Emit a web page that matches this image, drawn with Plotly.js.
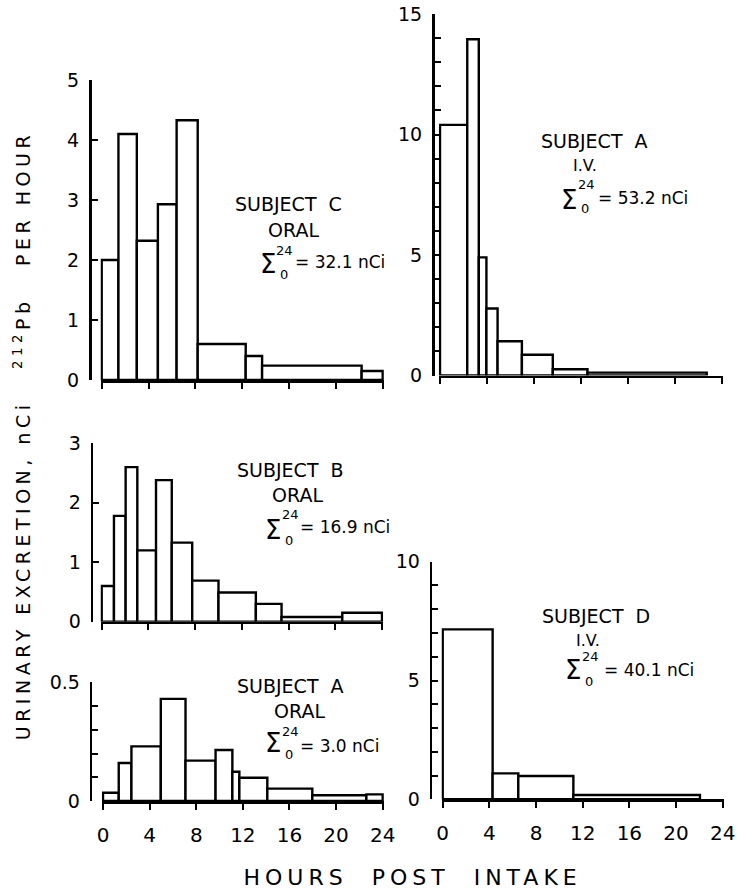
<!DOCTYPE html>
<html><head><meta charset="utf-8">
<script src="https://cdn.plot.ly/plotly-3.0.1.min.js"></script>
<style>html,body{margin:0;padding:0;background:#fff}#chart{width:737px;height:890px}</style>
</head><body><div id="chart"></div>
<script>
// ---- data (hours post intake: bin edges; nCi 212Pb per hour) ----
const xTickVals = [0, 4, 8, 12, 16, 20, 24];
// Subject C, oral
const cEdges  = [0, 1.43, 3.0, 4.8, 6.4, 8.2, 12.3, 13.7, 22.2, 24];
const cValues = [2.0, 4.1, 2.32, 2.93, 4.33, 0.6, 0.4, 0.24, 0.15];
// Subject A, I.V.
const aivEdges  = [0, 2.32, 3.3, 3.95, 4.9, 6.97, 9.6, 12.55, 22.7];
const aivValues = [10.4, 13.95, 4.9, 2.78, 1.42, 0.86, 0.26, 0.12];
// Subject B, oral
const bEdges  = [0, 1.05, 2.05, 3.05, 4.65, 6.0, 7.75, 10.0, 13.2, 15.4, 20.6, 24];
const bValues = [0.6, 1.78, 2.6, 1.2, 2.38, 1.33, 0.69, 0.49, 0.3, 0.08, 0.15];
// Subject A, oral
const aoEdges  = [0, 1.35, 2.44, 4.96, 7.08, 9.66, 11.1, 11.7, 14.1, 17.96, 22.6, 24];
const aoValues = [0.035, 0.16, 0.23, 0.43, 0.17, 0.215, 0.123, 0.098, 0.052, 0.024, 0.028];
// Subject D, I.V.
const dEdges  = [0, 4.28, 6.48, 11.2, 22.05];
const dValues = [7.15, 1.09, 0.98, 0.18];
// labels
const subjectLabels = ['SUBJECT\u00A0\u00A0C', 'SUBJECT\u00A0\u00A0A', 'SUBJECT\u00A0\u00A0B', 'SUBJECT\u00A0\u00A0A', 'SUBJECT\u00A0\u00A0D'];
const routeLabels = ['ORAL', 'I.V.', 'ORAL', 'ORAL', 'I.V.'];
const totals = ['32.1', '53.2', '16.9', '3.0', '40.1'];
const xTitle = 'HOURS\u00A0\u00A0POST\u00A0\u00A0INTAKE';
const yTitle = 'URINARY\u00A0EXCRETION,\u00A0nCi\u00A0\u00A0\u00A0<sup>212</sup>Pb\u00A0\u00A0\u00A0PER\u00A0HOUR';

// ---- layout geometry ----
const W = 737, H = 890;
const fx = p => p / W, fy = p => 1 - p / H;
const FONT = 'DejaVu Sans, Liberation Sans, sans-serif';
const panels = [
  {edges: cEdges,   vals: cValues,   yAxisX: 90,    x0: 101.7, x24: 382.7, yTop: 80,    yBot: 380,   yr: [0, 5],   dtick: 1,   minor: null, labels: false,
   sub: [288, 204], route: [293, 230], sig: [268, 264], up: [284, 251], lo: [284, 274], eq: [293, 262]},
  {edges: aivEdges, vals: aivValues, yAxisX: 433,   x0: 440,   x24: 722,   yTop: 14,    yBot: 375.5, yr: [0, 15],  dtick: 5,   minor: 1,    labels: false,
   sub: [594, 141], route: [585, 165], sig: [569, 200], up: [586, 184], lo: [585, 209], eq: [596, 198]},
  {edges: bEdges,   vals: bValues,   yAxisX: 91.7,  x0: 101.7, x24: 382,   yTop: 443.3, yBot: 621.7, yr: [0, 3],   dtick: 1,   minor: null, labels: false,
   sub: [290, 470], route: [297, 495], sig: [273, 530], up: [290, 514], lo: [289, 540], eq: [298, 527]},
  {edges: aoEdges,  vals: aoValues,  yAxisX: 90.7,  x0: 103,   x24: 382.7, yTop: 682.3, yBot: 801,   yr: [0, 0.5], dtick: 0.5, minor: 0.1,  labels: true,
   sub: [290, 686], route: [299, 711], sig: [273, 743], up: [290, 731], lo: [289, 754], eq: [298, 746]},
  {edges: dEdges,   vals: dValues,   yAxisX: 430.7, x0: 442.7, x24: 722.7, yTop: 561.7, yBot: 799.3, yr: [0, 10],  dtick: 5,   minor: 1,    labels: true,
   sub: [596, 616], route: [588, 640], sig: [573, 670], up: [590, 656], lo: [589, 681], eq: [602, 670]}
];

const traces = [];
const layout = {
  width: W, height: H,
  margin: {l: 0, r: 0, t: 0, b: 0},
  paper_bgcolor: '#fff', plot_bgcolor: 'rgba(0,0,0,0)',
  showlegend: false,
  font: {family: FONT, color: '#000', size: 18},
  annotations: []
};

const XMIN = -0.1, XMAX = 24.1;
panels.forEach((p, i) => {
  const n = i + 1;
  const xs = n === 1 ? 'x' : 'x' + n, ys = n === 1 ? 'y' : 'y' + n;
  const mids = [], widths = [];
  for (let k = 0; k < p.vals.length; k++) {
    mids.push((p.edges[k] + p.edges[k + 1]) / 2);
    widths.push(p.edges[k + 1] - p.edges[k]);
  }
  traces.push({
    type: 'bar', x: mids, y: p.vals, width: widths, xaxis: xs, yaxis: ys,
    marker: {color: '#fff', line: {color: '#000', width: 2.4}},
    hoverinfo: 'skip'
  });
  const pph = (p.x24 - p.x0) / 24;
  layout['xaxis' + (n === 1 ? '' : n)] = {
    domain: [fx(p.x0 + XMIN * pph), fx(p.x0 + XMAX * pph)],
    range: [XMIN, XMAX], anchor: ys,
    showline: true, linecolor: '#000', linewidth: 2.5,
    ticks: 'outside', ticklen: 6, tickwidth: 2, tickcolor: '#000',
    tickmode: 'array', tickvals: xTickVals,
    showticklabels: p.labels, tickfont: {family: FONT, size: 20, color: '#000'},
    ticklabelstandoff: 8,
    showgrid: false, zeroline: false, fixedrange: true
  };
  const ya = {
    domain: [fy(p.yBot), fy(p.yTop)], range: p.yr,
    anchor: 'free', position: fx(p.yAxisX),
    showline: true, linecolor: '#000', linewidth: 2.5,
    ticks: 'inside', ticklen: 6, tickwidth: 2, tickcolor: '#000',
    tick0: 0, dtick: p.dtick,
    tickfont: {family: FONT, size: 19, color: '#000'},
    ticklabelstandoff: 6,
    showgrid: false, zeroline: false, fixedrange: true
  };
  if (p.minor) ya.minor = {dtick: p.minor, tick0: 0, ticks: 'inside', ticklen: 6, tickwidth: 2, tickcolor: '#000', showgrid: false};
  layout['yaxis' + (n === 1 ? '' : n)] = ya;

  const A = (pt, text, size, xanchor) => layout.annotations.push({
    xref: 'paper', yref: 'paper', x: fx(pt[0]), y: fy(pt[1]), text: text,
    showarrow: false, xanchor: xanchor || 'center', yanchor: 'middle',
    font: {family: FONT, size: size, color: '#000'}
  });
  A(p.sub, subjectLabels[i], 19);
  A(p.route, routeLabels[i], i === 1 || i === 4 ? 16 : 19);
  A(p.sig, '\u03A3', 26);
  A(p.up, '24', 13);
  A(p.lo, '0', 13);
  A(p.eq, '=\u00A0' + totals[i] + '\u00A0nCi', 17, 'left');
});

layout.annotations.push({
  xref: 'paper', yref: 'paper', x: fx(412), y: fy(877), text: xTitle,
  showarrow: false, xanchor: 'center', yanchor: 'middle',
  font: {family: FONT, size: 22, color: '#000'}
});
layout.annotations.push({
  xref: 'paper', yref: 'paper', x: fx(22), y: fy(436), text: yTitle, textangle: -90,
  showarrow: false, xanchor: 'center', yanchor: 'middle',
  font: {family: FONT, size: 19, color: '#000'}
});

Plotly.newPlot('chart', traces, layout, {staticPlot: true, displayModeBar: false}).then(gd => {
  gd.querySelectorAll('.annotation-text').forEach(t => {
    const s = t.textContent;
    if (s.indexOf('HOURS') === 0) t.style.letterSpacing = '5px';
    else if (s.indexOf('URINARY') === 0) t.style.letterSpacing = '4.5px';
  });
});
</script>
</body></html>
